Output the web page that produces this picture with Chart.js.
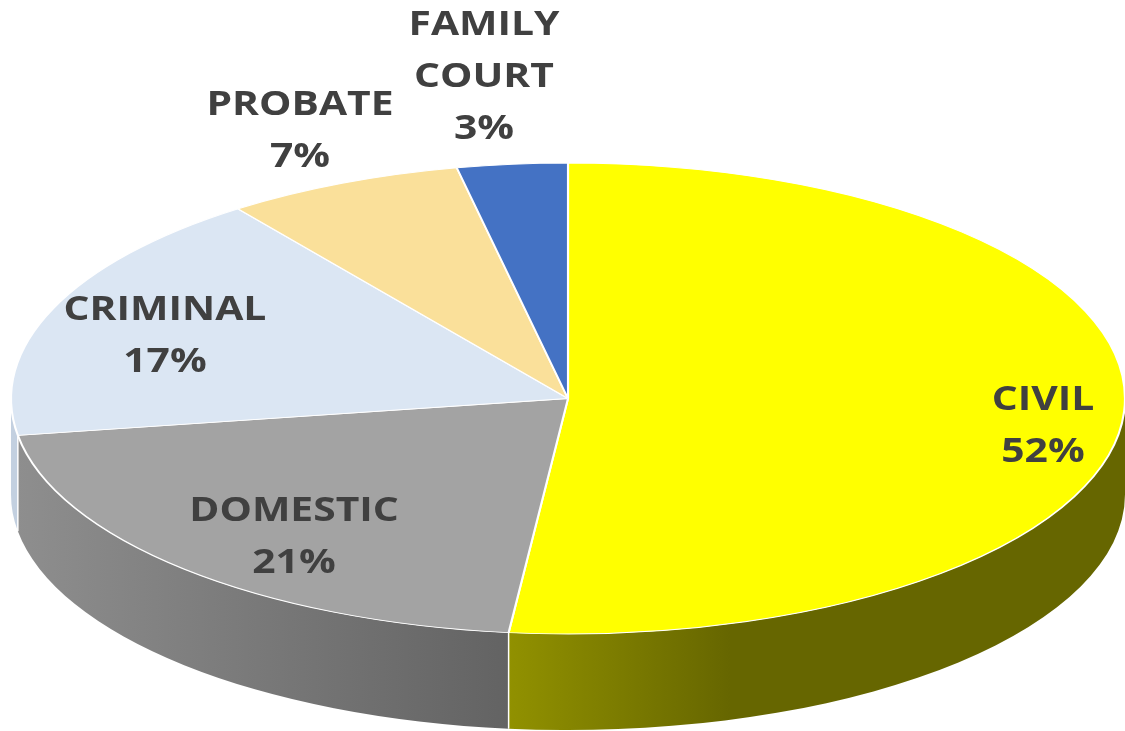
<!DOCTYPE html>
<html>
<head>
<meta charset="utf-8">
<style>
html,body{margin:0;padding:0;background:#fff;}
#wrap{position:relative;width:1125px;height:731px;overflow:hidden;}
</style>
<script src="https://cdn.jsdelivr.net/npm/chart.js@4"></script>
</head>
<body>
<div id="wrap"><canvas id="c" width="1125" height="731"></canvas></div>
<script>
const categories = [["CIVIL"], ["DOMESTIC"], ["CRIMINAL"], ["PROBATE"], ["FAMILY", "COURT"]];
const shares = [51.7, 20.8, 17.4, 6.9, 3.2];
const topColors = ["#ffff00", "#a3a3a3", "#dbe6f3", "#fae09a", "#4472c4"];
const sideStops = [
  [[0, "#919100"], [0.36, "#666600"], [1, "#666600"]],
  [[0, "#8e8e8e"], [1, "#636363"]],
  [[0, "#c3d0e0"], [1, "#c3d0e0"]],
  [[0, "#c8b37b"], [1, "#c8b37b"]],
  [[0, "#365b9d"], [1, "#365b9d"]]
];
const labelCentres = [[1043, 426], [294, 537], [165, 336.5], [300, 131], [484, 77.5]];

const CX = 568, CY = 398.5, RX = 557, RY = 235.5, DEPTH = 96;
const LINE_H = 52;
const TEXT_STRETCH = 1.2;

const tilted = {
  id: "tilted",
  beforeDatasetsDraw(chart) {
    const ctx = chart.ctx;
    const arcs = chart.getDatasetMeta(0).data;
    arcs.forEach((arc, i) => {
      const a = Math.max(arc.startAngle, 0);
      const b = Math.min(arc.endAngle, Math.PI);
      if (b <= a) return;
      const x1 = CX + RX * Math.cos(a), x2 = CX + RX * Math.cos(b);
      const g = ctx.createLinearGradient(Math.min(x1, x2), 0, Math.max(x1, x2), 0);
      sideStops[i].forEach(s => g.addColorStop(s[0], s[1]));
      ctx.beginPath();
      ctx.ellipse(CX, CY, RX, RY, 0, a, b);
      ctx.ellipse(CX, CY + DEPTH, RX, RY, 0, b, a, true);
      ctx.closePath();
      ctx.fillStyle = g;
      ctx.fill();
      if (a > 0) {
        ctx.beginPath();
        ctx.moveTo(x1, CY + RY * Math.sin(a));
        ctx.lineTo(x1, CY + RY * Math.sin(a) + DEPTH);
        ctx.strokeStyle = "#ffffff";
        ctx.lineWidth = 1.5;
        ctx.stroke();
      }
    });
    const first = arcs[0];
    const R = first.outerRadius;
    ctx.save();
    ctx.translate(CX, CY);
    ctx.scale(RX / R, RY / R);
    ctx.translate(-first.x, -first.y);
  },
  afterDatasetsDraw(chart) {
    const ctx = chart.ctx;
    ctx.restore();
    ctx.save();
    ctx.fillStyle = "#404040";
    ctx.font = "bold 34px 'Open Sans', Lato, sans-serif";
    ctx.textAlign = "center";
    ctx.textBaseline = "middle";
    categories.forEach((lines, i) => {
      const all = lines.concat([Math.round(shares[i]) + "%"]);
      const [x, y] = labelCentres[i];
      const top = y - (all.length - 1) * LINE_H / 2;
      all.forEach((t, k) => {
        ctx.save();
        ctx.translate(x, top + k * LINE_H);
        ctx.scale(TEXT_STRETCH, 1);
        ctx.fillText(t, 0, 0);
        ctx.restore();
      });
    });
    ctx.restore();
  }
};

new Chart(document.getElementById("c"), {
  type: "pie",
  data: {
    labels: categories.map(l => l.join(" ")),
    datasets: [{
      data: shares,
      backgroundColor: topColors,
      borderColor: "#ffffff",
      borderWidth: 1.4,
      clip: false
    }]
  },
  options: {
    responsive: false,
    animation: false,
    layout: { padding: 0 },
    plugins: { legend: { display: false }, tooltip: { enabled: false }, title: { display: false } }
  },
  plugins: [tilted]
});
</script>
</body>
</html>
